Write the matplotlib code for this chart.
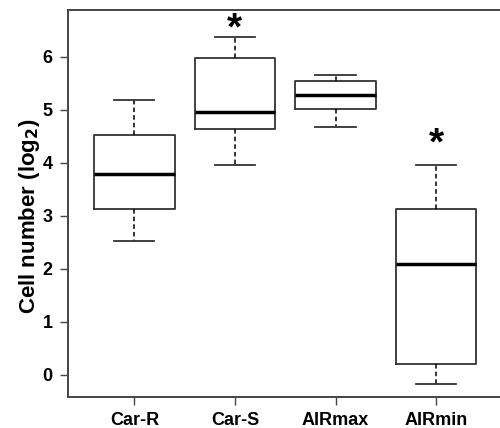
import matplotlib
matplotlib.use("Agg")
from matplotlib import pyplot as plt

plt.rcParams['font.family'] = ['Liberation Sans', 'DejaVu Sans']

groups = ['Car-R', 'Car-S', 'AIRmax', 'AIRmin']
whisker_lo = [2.52, 3.95, 4.67, -0.18]
q1 = [3.13, 4.64, 5.01, 0.20]
median = [3.79, 4.95, 5.28, 2.09]
q3 = [4.52, 5.97, 5.55, 3.12]
whisker_hi = [5.18, 6.37, 5.65, 3.96]
# significance marks
star_groups = [2, 4]
star_y = [6.51, 4.34]

stats = []
for i, g in enumerate(groups):
    stats.append({'label': g, 'whislo': whisker_lo[i], 'q1': q1[i], 'med': median[i],
                  'q3': q3[i], 'whishi': whisker_hi[i], 'fliers': []})

fig = plt.figure(figsize=(5, 4.28), dpi=100)
ax = fig.add_axes([0.136, 0.0724, 0.869, 0.9042])

line = '#333333'
ax.bxp(stats, positions=[1, 2, 3, 4], widths=0.8, showfliers=False,
       boxprops=dict(color=line, linewidth=1.3),
       medianprops=dict(color='black', linewidth=2.5),
       whiskerprops=dict(color='black', linewidth=1.1, linestyle=(0, (3, 2))),
       capprops=dict(color=line, linewidth=1.3))

for gx, sy in zip(star_groups, star_y):
    ax.text(gx, sy, '*', ha='center', va='center', fontsize=28, fontweight='bold')

ax.set_xlim(0.34, 4.66)
ax.set_ylim(-0.42, 6.88)
ax.set_yticks(range(0, 7))
ax.set_yticklabels([str(v) for v in range(0, 7)], fontsize=13, fontweight='bold')
ax.set_xticks([1, 2, 3, 4])
ax.set_xticklabels(groups, fontsize=13, fontweight='bold')
ax.tick_params(direction='out', length=6, width=1, colors='black', color='#444444', pad=5)
ax.set_ylabel('Cell number (log$_\\mathbf{2}$)', fontsize=16, fontweight='bold')
ax.yaxis.set_label_coords(-0.06, 0.468)
for s in ax.spines.values():
    s.set_color('#444444')
    s.set_linewidth(1.4)

fig.savefig('out.png', dpi=100)
